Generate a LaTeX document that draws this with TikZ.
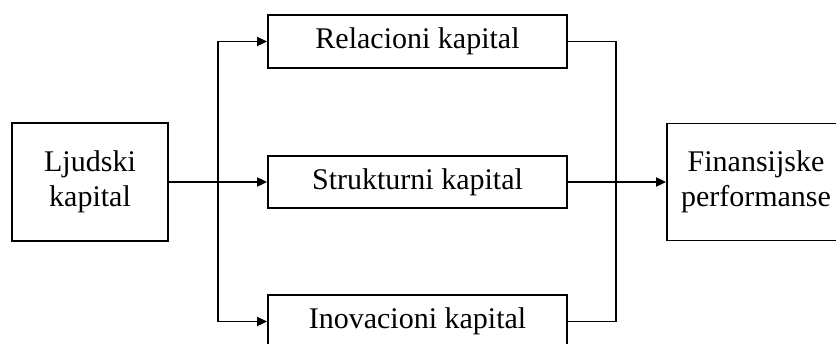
\documentclass[tikz,border=0pt]{standalone}
\usepackage{fontspec}
\setmainfont{Liberation Serif}
\usetikzlibrary{arrows.meta}
\begin{document}
\begin{tikzpicture}[x=1pt,y=-1pt,
  box/.style={draw,line width=1.8pt,rectangle,inner sep=0pt,align=center,
    font=\fontsize{30}{35}\selectfont},
  link/.style={line width=1.8pt},
  arr/.style={link,-{Triangle[length=10pt,width=9pt]}}]
  \useasboundingbox (0,0) rectangle (836,343);
  \clip (0,0) rectangle (836,343);
  % boxes
  \node[box,minimum width=156pt,minimum height=118pt] (lj) at (90,182) {Ljudski\\kapital};
  \node[box,minimum width=299pt,minimum height=53pt] (rel) at (417.5,41.5) {Relacioni kapital};
  \node[box,minimum width=299pt,minimum height=52pt] (str) at (417.5,182) {Strukturni kapital};
  \node[box,minimum width=299pt,minimum height=53pt] (ino) at (417.5,321.5) {Inovacioni kapital};
  \node[box,minimum width=178pt,minimum height=117pt] (fin) at (756,182) {Finansijske\\performanse};
  % junctions of the branching lines
  \coordinate (jl) at (218,182);
  \coordinate (jr) at (616,182);
  % connectors
  \draw[arr] (lj.east) -- (str.west);
  \draw[arr] (str.east) -- (fin.west);
  \draw[arr] (jl) |- (rel.west);
  \draw[arr] (jl) |- (ino.west);
  \draw[link] (rel.east) -| (jr) |- (ino.east);
\end{tikzpicture}
\end{document}
